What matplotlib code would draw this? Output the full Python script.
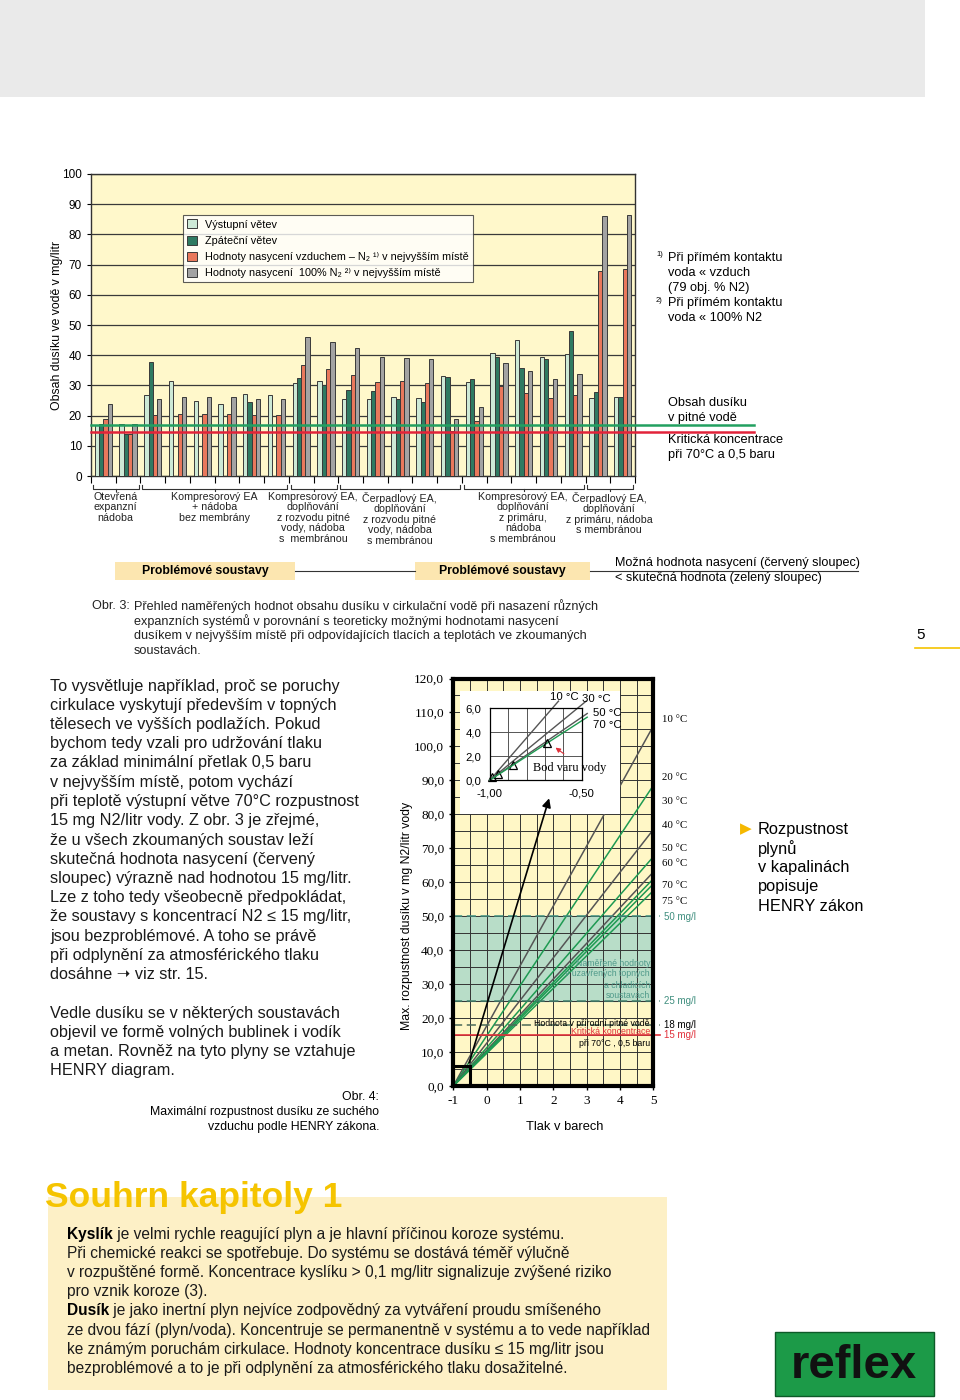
import numpy as np
import matplotlib
matplotlib.use("Agg")
import matplotlib.pyplot as plt
from matplotlib.patches import Rectangle

plt.rcParams["font.family"] = ["Liberation Sans", "DejaVu Sans"]
plt.rcParams["axes.unicode_minus"] = False
SERIF = ["Liberation Serif", "DejaVu Serif"]

# --- data: Obr. 3 (mg N2 / litr), one value per group of systems
nan = np.nan
vystupni = [17.0, 17.1, 26.8, 31.4, 24.9, 23.8, 27.0, 26.7, 30.9, 31.4, 25.6,
            25.6, 26.2, 25.7, 33.1, 31.2, 40.7, 45.0, 39.5, 40.3, 25.8, 26.3]
zpatecni = [17.3, 13.8, 37.6, nan, nan, nan, 24.5, nan, 32.6, 30.2, 28.4,
            28.1, 25.5, 24.6, 32.7, 32.0, 39.4, 35.8, 38.9, 48.0, 27.8, 26.3]
nasyc_vzduch = [18.9, 13.8, 20.3, 20.5, 20.5, 20.6, 20.3, 20.3, 36.7, 35.3, 33.6,
                31.2, 31.3, 30.8, 14.8, 18.3, 29.9, 27.6, 25.7, 26.8, 68.0, 68.4]
nasyc_n2 = [23.7, 17.3, 25.4, 26.1, 26.1, 26.1, 25.5, 25.5, 46.1, 44.3, 42.3,
            39.3, 39.2, 38.6, 18.8, 23.0, 37.4, 34.7, 32.2, 33.8, 86.0, 86.4]
pitna_voda = 17.0
kriticka = 14.5

skupiny = ["Otevřená\nexpanzní\nnádoba",
           "Kompresorový EA\n+ nádoba\nbez membrány",
           "Kompresorový EA,\ndoplňování\nz rozvodu pitné\nvody, nádoba\ns  membránou",
           "Čerpadlový EA,\ndoplňování\nz rozvodu pitné\nvody, nádoba\ns membránou",
           "Kompresorový EA,\ndoplňování\nz primáru,\nnádoba\ns membránou",
           "Čerpadlový EA,\ndoplňování\nz primáru, nádoba\ns membránou"]
skupiny_od = [0, 2, 8, 10, 15, 20]
skupiny_do = [2, 8, 10, 15, 20, 22]

legenda = ["Výstupní větev", "Zpáteční větev",
           "Hodnoty nasycení vzduchem – N₂ ¹⁾ v nejvyšším místě",
           "Hodnoty nasycení  100% N₂ ²⁾ v nejvyšším místě"]
barvy = ["#CDE9D6", "#2F7A62", "#E9785C", "#A3A3A3"]

# --- data: Obr. 4, HENRY (value at 5 bar for each temperature)
teploty = [10, 20, 30, 40, 50, 60, 70, 75]
hodnota_5bar = [106.0, 88.5, 75.5, 67.5, 63.0, 61.0, 59.5, 57.5]
barva_car = ["#555555", "#1E9A52", "#555555", "#1E9A52", "#555555", "#1E9A52", "#1E9A52", "#1E9A52"]
detail_teploty = [10, 30, 50, 70]
bod_varu = [-0.988, -0.958, -0.877, -0.688]


def fx(x):
    return x / 960


def fy(y):
    return 1 - y / 1400


fig = plt.figure(figsize=(9.6, 14), dpi=100)

# grey band on top
fig.patches.append(Rectangle((0, fy(97)), fx(925), 97 / 1400, transform=fig.transFigure,
                             fc="#EAEAEA", ec="none", zorder=0))

# ================= Obr. 3 bar chart =================
ax = fig.add_axes([fx(91), fy(476), fx(635) - fx(91), 302 / 1400])
ax.set_facecolor("#FFF8CB")
ax.set_xlim(0, 22)
ax.set_ylim(0, 100)
bw = 0.174
grp = np.arange(22)
for j, (vals, c, lab) in enumerate(zip([vystupni, zpatecni, nasyc_vzduch, nasyc_n2], barvy, legenda)):
    v = np.array(vals)
    ok = ~np.isnan(v)
    ax.bar(grp[ok] + 0.5 + (j - 1.5) * bw, v[ok], width=bw, color=c,
           edgecolor="#3a3a3a", linewidth=0.7, label=lab, zorder=3)
ax.set_yticks(np.arange(0, 101, 10))
ax.tick_params(axis="y", labelsize=8.5, length=3, width=0.8)
ax.set_xticks(np.arange(0, 23))
ax.set_xticklabels([])
ax.tick_params(axis="x", length=5, width=0.8, direction="out")
ax.grid(axis="y", color="#3a3a3a", linewidth=0.9)
ax.set_axisbelow(True)
for s in ax.spines.values():
    s.set_linewidth(1.0)
    s.set_color("#333333")
ax.plot([0, 26.8], [pitna_voda, pitna_voda], color="#22A060", lw=1.8, clip_on=False, zorder=5)
ax.plot([0, 26.8], [kriticka, kriticka], color="#E2233A", lw=1.8, clip_on=False, zorder=5)

leg = ax.legend(loc="upper left", bbox_to_anchor=(fx(183), fy(215)), bbox_transform=fig.transFigure,
                fontsize=7.8, frameon=True, fancybox=False, edgecolor="#333333",
                handlelength=0.9, handleheight=0.9, handletextpad=0.7,
                labelspacing=0.55, borderaxespad=0, borderpad=0.4)
leg.get_frame().set_linewidth(0.8)
leg.set_zorder(6)

# brackets under groups
for a, b, txt in zip(skupiny_od, skupiny_do, skupiny):
    a2, b2 = a + 0.07, b - 0.07
    ax.plot([a2, a2, b2, b2], [-2.9, -4.2, -4.2, -2.9], color="#333333", lw=0.8, clip_on=False)
    m = (a + b) / 2
    ax.plot([m, m], [-4.2, -4.9], color="#333333", lw=0.8, clip_on=False)
    fig.text(fx(91 + m * 24.68), fy(492), txt, ha="center", va="top", fontsize=7.7,
             linespacing=1.05, color="#222222")

fig.text(fx(57), fy(325), "Obsah dusíku ve vodě v mg/litr", rotation=90, ha="center",
         va="center", fontsize=8.8)

# footnotes right of chart
fig.text(fx(656), fy(255), "1)", fontsize=5.5, va="center")
fig.text(fx(656), fy(300), "2)", fontsize=5.5, va="center")
for y, t in zip([258, 273, 288, 303, 318],
                ["Při přímém kontaktu", "voda « vzduch", "(79 obj. % N2)",
                 "Při přímém kontaktu", "voda « 100% N2"]):
    fig.text(fx(668), fy(y), t, fontsize=9.2, va="center")
for y, t in zip([403, 418, 440, 455],
                ["Obsah dusíku", "v pitné vodě", "Kritická koncentrace", "při 70°C a 0,5 baru"]):
    fig.text(fx(668), fy(y), t, fontsize=9.2, va="center")

# Problémové soustavy
for x0, x1 in [(115, 295), (415, 590)]:
    fig.patches.append(Rectangle((fx(x0), fy(580)), fx(x1 - x0), 18 / 1400, transform=fig.transFigure,
                                 fc="#FCE6B0", ec="none"))
    fig.text(fx((x0 + x1) / 2), fy(571), "Problémové soustavy", ha="center", va="center",
             fontsize=8.8, fontweight="bold")
fig.lines.append(plt.Line2D([fx(295), fx(415)], [fy(571), fy(571)], transform=fig.transFigure,
                            color="#333333", lw=0.8))
fig.lines.append(plt.Line2D([fx(590), fx(858)], [fy(571), fy(571)], transform=fig.transFigure,
                            color="#333333", lw=0.8))
fig.text(fx(615), fy(563), "Možná hodnota nasycení (červený sloupec)", fontsize=9.1, va="center")
fig.text(fx(615), fy(578), "< skutečná hodnota (zelený sloupec)", fontsize=9.1, va="center")

fig.text(fx(92), fy(606), "Obr. 3:", fontsize=9.1, va="center", color="#222222")
for y, t in zip([606, 621, 636, 651],
                ["Přehled naměřených hodnot obsahu dusíku v cirkulační vodě při nasazení různých",
                 "expanzních systémů v porovnání s teoreticky možnými hodnotami nasycení",
                 "dusíkem v nejvyšším místě při odpovídajících tlacích a teplotách ve zkoumaných",
                 "soustavách."]):
    fig.text(fx(134), fy(y), t, fontsize=9.1, va="center", color="#222222")

fig.text(fx(916), fy(635), "5", fontsize=11, va="center")
fig.lines.append(plt.Line2D([fx(915), fx(960)], [fy(648), fy(648)], transform=fig.transFigure,
                            color="#F5C400", lw=1.2))

# ================= left text column =================
odstavec = ["To vysvětluje například, proč se poruchy",
            "cirkulace vyskytují především v topných",
            "tělesech ve vyšších podlažích. Pokud",
            "bychom tedy vzali pro udržování tlaku",
            "za základ minimální přetlak 0,5 baru",
            "v nejvyšším místě, potom vychází",
            "při teplotě výstupní větve 70°C rozpustnost",
            "15 mg N2/litr vody. Z obr. 3 je zřejmé,",
            "že u všech zkoumaných soustav leží",
            "skutečná hodnota nasycení (červený",
            "sloupec) výrazně nad hodnotou 15 mg/litr.",
            "Lze z toho tedy všeobecně předpokládat,",
            "že soustavy s koncentrací N2 ≤ 15 mg/litr,",
            "jsou bezproblémové. A toho se právě",
            "při odplynění za atmosférického tlaku",
            "dosáhne ➝ viz str. 15.",
            "",
            "Vedle dusíku se v některých soustavách",
            "objevil ve formě volných bublinek i vodík",
            "a metan. Rovněž na tyto plyny se vztahuje",
            "HENRY diagram."]
for i, t in enumerate(odstavec):
    fig.text(fx(50), fy(686 + i * 19.25), t, fontsize=11.7, va="center", color="#1a1a1a")

fig.text(fx(379), fy(1097), "Obr. 4:", fontsize=8.8, ha="right", va="center")
fig.text(fx(379), fy(1112), "Maximální rozpustnost dusíku ze suchého", fontsize=8.8, ha="right", va="center")
fig.text(fx(379), fy(1127), "vzduchu podle HENRY zákona.", fontsize=8.8, ha="right", va="center")

# ================= Obr. 4 HENRY chart =================
hx = fig.add_axes([fx(453.3), fy(1086), 200 / 960, 407.5 / 1400])
hx.set_facecolor("#FFF7C6")
hx.set_xlim(-1, 5)
hx.set_ylim(0, 120)
hx.axhspan(25, 50, color="#B8DDC8", zorder=0.5)
hx.set_xticks(np.arange(-1, 6))
hx.set_xticks(np.arange(-1, 5.01, 0.5), minor=True)
hx.set_yticks(np.arange(0, 121, 10))
hx.set_yticks(np.arange(0, 121, 5), minor=True)
hx.set_yticklabels([f"{v},0" for v in range(0, 121, 10)])
for lbl in hx.get_xticklabels() + hx.get_yticklabels():
    lbl.set_family(SERIF)
hx.tick_params(labelsize=9.5, length=3, width=1)
hx.tick_params(which="minor", length=0)
hx.grid(which="both", color="#333333", linewidth=0.7)
hx.set_axisbelow(True)
for s in hx.spines.values():
    s.set_linewidth(3)

hx.add_patch(Rectangle((-0.8, 80), 4.8, 36.4, fc="white", ec="none", zorder=3))

px = np.array([-1.0, 5.0])
for v5, c in zip(hodnota_5bar, barva_car):
    k = v5 / 6
    hx.plot(px, k * (px + 1), color=c, lw=1.1, zorder=2)

hx.plot([-1, 5.2], [50, 50], ls=(0, (6, 3)), color="#3F8E7E", lw=1.1, clip_on=False, zorder=2.5)
hx.plot([-1, 5.2], [25, 25], ls=(0, (6, 3)), color="#3F7E6A", lw=1.1, clip_on=False, zorder=2.5)
hx.plot([-1, 5.2], [18, 18], ls=(0, (6, 3)), color="#4A6A58", lw=1.1, clip_on=False, zorder=2.5)
hx.plot([-1, 5.2], [15, 15], color="#E0303A", lw=1.2, clip_on=False, zorder=2.5)
hx.add_patch(Rectangle((-1, 0), 0.5, 6, fill=False, ec="black", lw=2.2, zorder=4))
hx.annotate("", xy=(1.9, 85.5), xytext=(-0.55, 6),
            arrowprops=dict(arrowstyle="-|>", color="black", lw=1.2, mutation_scale=13), zorder=5)

for y, t in zip([963, 974, 985, 996],
                ["Naměřené hodnoty", "v uzavřených topných", "a chladicích", "soustavách"]):
    fig.text(fx(650), fy(y), t, fontsize=6.3, ha="right", va="center", color="#4F9A8A")
fig.text(fx(650), fy(1023), "Hodnota v přírodní pitné vodě", fontsize=6.3, ha="right", va="center")
fig.text(fx(650), fy(1032), "Kritická koncentrace", fontsize=6.3, ha="right", va="center", color="#E0303A")
fig.text(fx(650), fy(1043), "při 70°C , 0,5 baru", fontsize=6.3, ha="right", va="center")

for y, t, c in [(916.5, "50 mg/l", "#3F8E7E"), (1001, "25 mg/l", "#3F8E7E"),
                (1025, "18 mg/l", "black"), (1035, "15 mg/l", "#E0303A")]:
    fig.text(fx(664), fy(y), t, fontsize=7, va="center", color=c)
for y, t in zip([719, 777, 801, 826, 848, 864, 885, 902], teploty):
    fig.text(fx(662), fy(y), f"{t} °C", fontsize=7.8, va="center", family=SERIF)

fig.text(fx(407), fy(916), "Max. rozpustnost dusíku v mg N2/litr vody", rotation=90,
         ha="center", va="center", fontsize=8.8)
fig.text(fx(565), fy(1127), "Tlak v barech", ha="center", va="center", fontsize=9.3)

# inset
ix = fig.add_axes([fx(490), fy(780), 91.7 / 960, 71.7 / 1400])
ix.set_xlim(-1, -0.5)
ix.set_ylim(0, 6)
ix.set_xticks([-1, -0.5])
ix.set_xticklabels(["-1,00", "-0,50"])
ix.set_xticks(np.arange(-1, -0.49, 0.1), minor=True)
ix.set_yticks([0, 2, 4, 6])
ix.set_yticklabels(["0,0", "2,0", "4,0", "6,0"])
ix.tick_params(labelsize=8.2, length=0, pad=6)
ix.tick_params(which="minor", length=0)
ix.grid(which="both", color="#555555", lw=0.7)
ix.set_axisbelow(True)
for s in ix.spines.values():
    s.set_linewidth(0.9)
for t, bx in zip(detail_teploty, bod_varu):
    i = teploty.index(t)
    k = hodnota_5bar[i] / 6
    xe = min(-0.47, 6.6 / k - 1)
    ix.plot([-1, xe], [0, k * (xe + 1)], color=barva_car[i], lw=1.0, clip_on=False)
    ix.plot(bx, k * (bx + 1), marker="^", ms=6, mfc="none", mec="black", mew=0.9, clip_on=False)
ix.annotate("", xy=(-0.655, 2.85), xytext=(-0.585, 2.05),
            arrowprops=dict(arrowstyle="-|>", color="#E0303A", lw=0.8, mutation_scale=7))
fig.text(fx(564), fy(697), "10 °C", fontsize=8.2, ha="center", va="center")
fig.text(fx(596), fy(699), "30 °C", fontsize=8.2, ha="center", va="center")
fig.text(fx(607), fy(713), "50 °C", fontsize=8.2, ha="center", va="center")
fig.text(fx(607), fy(725), "70 °C", fontsize=8.2, ha="center", va="center")
fig.text(fx(570), fy(768), "Bod varu vody", fontsize=8.8, ha="center", va="center", family=SERIF)

# right note
fig.text(fx(740), fy(829), "▶", fontsize=11, color="#F5B800", va="center", family="DejaVu Sans")
for i, t in enumerate(["Rozpustnost", "plynů", "v kapalinách", "popisuje", "HENRY zákon"]):
    fig.text(fx(758), fy(829 + i * 19.3), t, fontsize=11.8, va="center")

# ================= Souhrn kapitoly 1 =================
fig.patches.append(Rectangle((fx(48), fy(1390)), fx(619), 193 / 1400, transform=fig.transFigure,
                             fc="#FDF0C6", ec="none"))
fig.text(fx(45), fy(1197), "Souhrn kapitoly 1", fontsize=25.5, fontweight="bold", color="#F5C400",
         va="center")
souhrn = [("Kyslík", " je velmi rychle reagující plyn a je hlavní příčinou koroze systému."),
          ("", "Při chemické reakci se spotřebuje. Do systému se dostává téměř výlučně"),
          ("", "v rozpuštěné formě. Koncentrace kyslíku > 0,1 mg/litr signalizuje zvýšené riziko"),
          ("", "pro vznik koroze (3)."),
          ("Dusík", " je jako inertní plyn nejvíce zodpovědný za vytváření proudu smíšeného"),
          ("", "ze dvou fází (plyn/voda). Koncentruje se permanentně v systému a to vede například"),
          ("", "ke známým poruchám cirkulace. Hodnoty koncentrace dusíku ≤ 15 mg/litr jsou"),
          ("", "bezproblémové a to je při odplynění za atmosférického tlaku dosažitelné.")]
fig.canvas.draw()
for i, (b, t) in enumerate(souhrn):
    y = fy(1234 + i * 19.2)
    x = fx(67)
    if b:
        tb = fig.text(x, y, b, fontsize=11.2, fontweight="bold", va="center")
        bb = tb.get_window_extent(renderer=fig.canvas.get_renderer())
        x = fx(67 + bb.width)
    fig.text(x, y, t, fontsize=11.2, va="center", color="#1a1a1a")

# logo
fig.patches.append(Rectangle((fx(775), fy(1396)), fx(159), 64 / 1400, transform=fig.transFigure,
                             fc="#1C9A48", ec="#0d5a28", lw=1))
fig.text(fx(854), fy(1366), "reflex", fontsize=34, fontweight="heavy", ha="center", va="center",
         color="#111111")

fig.savefig("out.png", dpi=100)
